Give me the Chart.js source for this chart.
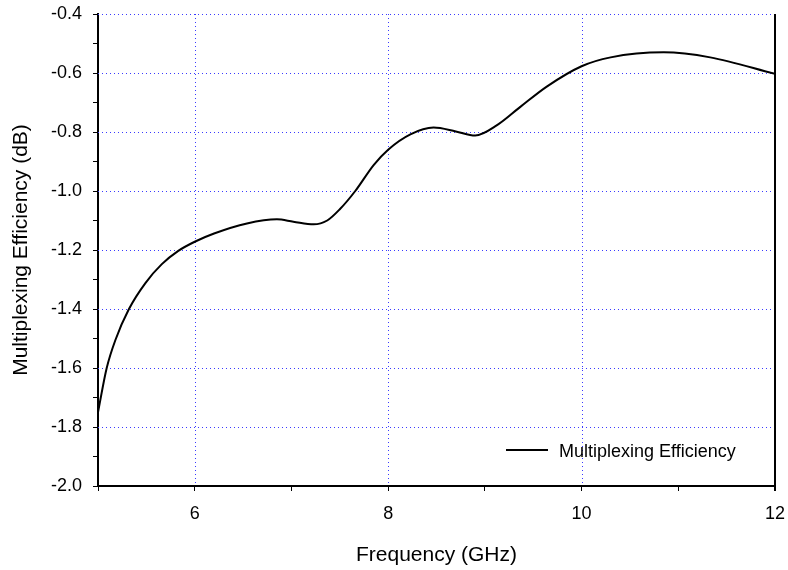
<!DOCTYPE html>
<html>
<head>
<meta charset="utf-8">
<script src="https://cdn.jsdelivr.net/npm/chart.js@4/dist/chart.umd.min.js"></script>
<style>
  html, body { margin: 0; padding: 0; background: #fff; }
  #wrap { width: 788px; height: 570px; }
</style>
</head>
<body>
<div id="wrap"><canvas id="chart" width="788" height="570"></canvas></div>
<script>
// Data
const freqGHz = [5.0, 5.09, 5.18, 5.32, 5.49, 5.66, 5.83, 6.0, 6.2, 6.54, 6.85, 7.02, 7.23, 7.37, 7.5, 7.66, 7.85, 8.0, 8.23, 8.47, 8.7, 8.9, 9.13, 9.37, 9.64, 10.0, 10.3, 10.85, 11.33, 12.0];
const efficiency = [-1.75, -1.60, -1.505, -1.40, -1.312, -1.248, -1.203, -1.172, -1.144, -1.110, -1.096, -1.104, -1.113, -1.100, -1.062, -1.000, -0.912, -0.860, -0.808, -0.785, -0.798, -0.812, -0.776, -0.714, -0.646, -0.577, -0.547, -0.530, -0.547, -0.603];
const seriesLabel = 'Multiplexing Efficiency';
const xGridTicks = [6, 8, 10];
const yGridTicks = [-1.8, -1.6, -1.4, -1.2, -1.0, -0.8, -0.6, -0.4];

const GRID_BLUE = '#3a3aff';
const FONT = "'Liberation Sans', Arial, sans-serif";

// dotted blue grid + black right frame line, placed with the chart scales
const gridPlugin = {
  id: 'dottedGrid',
  beforeDatasetsDraw(chart) {
    const { ctx, chartArea: a, scales: { x, y } } = chart;
    ctx.save();
    ctx.lineWidth = 1;
    ctx.strokeStyle = GRID_BLUE;
    ctx.setLineDash([1, 3]);
    xGridTicks.forEach(v => {
      const px = Math.round(x.getPixelForValue(v)) + 0.5;
      ctx.beginPath(); ctx.moveTo(px, a.top); ctx.lineTo(px, a.bottom); ctx.stroke();
    });
    yGridTicks.forEach(v => {
      const py = Math.round(y.getPixelForValue(v)) + 0.5;
      ctx.beginPath(); ctx.moveTo(a.left, py); ctx.lineTo(a.right, py); ctx.stroke();
    });
    ctx.setLineDash([]);
    ctx.strokeStyle = '#000';
    ctx.lineWidth = 2;
    const rx = x.getPixelForValue(12);
    ctx.beginPath(); ctx.moveTo(rx, a.top); ctx.lineTo(rx, a.bottom + 5); ctx.stroke();
    ctx.restore();
  }
};

// legend drawn inside the plot, lower right
const legendPlugin = {
  id: 'insideLegend',
  afterDraw(chart) {
    const ctx = chart.ctx;
    ctx.save();
    ctx.strokeStyle = '#000';
    ctx.lineWidth = 2;
    ctx.beginPath();
    ctx.moveTo(506, 450);
    ctx.lineTo(548, 450);
    ctx.stroke();
    ctx.fillStyle = '#000';
    ctx.font = '18px ' + FONT;
    ctx.textBaseline = 'alphabetic';
    ctx.fillText(chart.data.datasets[0].label, 559, 457);
    ctx.restore();
  }
};

const isMajorX = v => v % 2 === 0;
const isMajorY = v => Math.round(v * 10) % 2 === 0;

const ctx = document.getElementById('chart').getContext('2d');
new Chart(ctx, {
  type: 'scatter',
  data: {
    datasets: [{
      label: seriesLabel,
      data: freqGHz.map((f, i) => ({ x: f, y: efficiency[i] })),
      showLine: true,
      borderColor: '#000',
      borderWidth: 2,
      pointRadius: 0,
      cubicInterpolationMode: 'monotone'
    }]
  },
  options: {
    responsive: false,
    animation: false,
    layout: { padding: { left: 0, right: 13, top: 14, bottom: 0 } },
    plugins: { legend: { display: false }, tooltip: { enabled: false } },
    scales: {
      x: {
        type: 'linear',
        min: 5, max: 12,
        afterFit: s => { s.height = 84; s.paddingRight = 0; s.paddingLeft = 0; },
        ticks: {
          stepSize: 1,
          color: '#000',
          font: { family: FONT, size: 18 },
          padding: 12,
          maxRotation: 0,
          callback: v => (isMajorX(v) ? String(v) : '')
        },
        grid: {
          drawOnChartArea: false,
          tickColor: '#000',
          tickLength: 5
        },
        border: { color: '#000', width: 2 },
        title: {
          display: true,
          text: 'Frequency (GHz)',
          color: '#000',
          font: { family: FONT, size: 21 },
          padding: { top: 0, bottom: 2 }
        }
      },
      y: {
        type: 'linear',
        min: -2.0, max: -0.4,
        afterFit: s => { s.width = 98; s.paddingTop = 0; s.paddingBottom = 0; },
        ticks: {
          stepSize: 0.1,
          color: '#000',
          font: { family: FONT, size: 18 },
          padding: 11,
          callback: v => (isMajorY(v) ? v.toFixed(1) : '')
        },
        grid: {
          drawOnChartArea: false,
          tickColor: '#000',
          tickLength: 5
        },
        border: { color: '#000', width: 2 },
        title: {
          display: true,
          text: 'Multiplexing Efficiency (dB)',
          color: '#000',
          font: { family: FONT, size: 21 },
          padding: { top: 9, bottom: 0 }
        }
      }
    }
  },
  plugins: [gridPlugin, legendPlugin]
});
</script>
</body>
</html>
